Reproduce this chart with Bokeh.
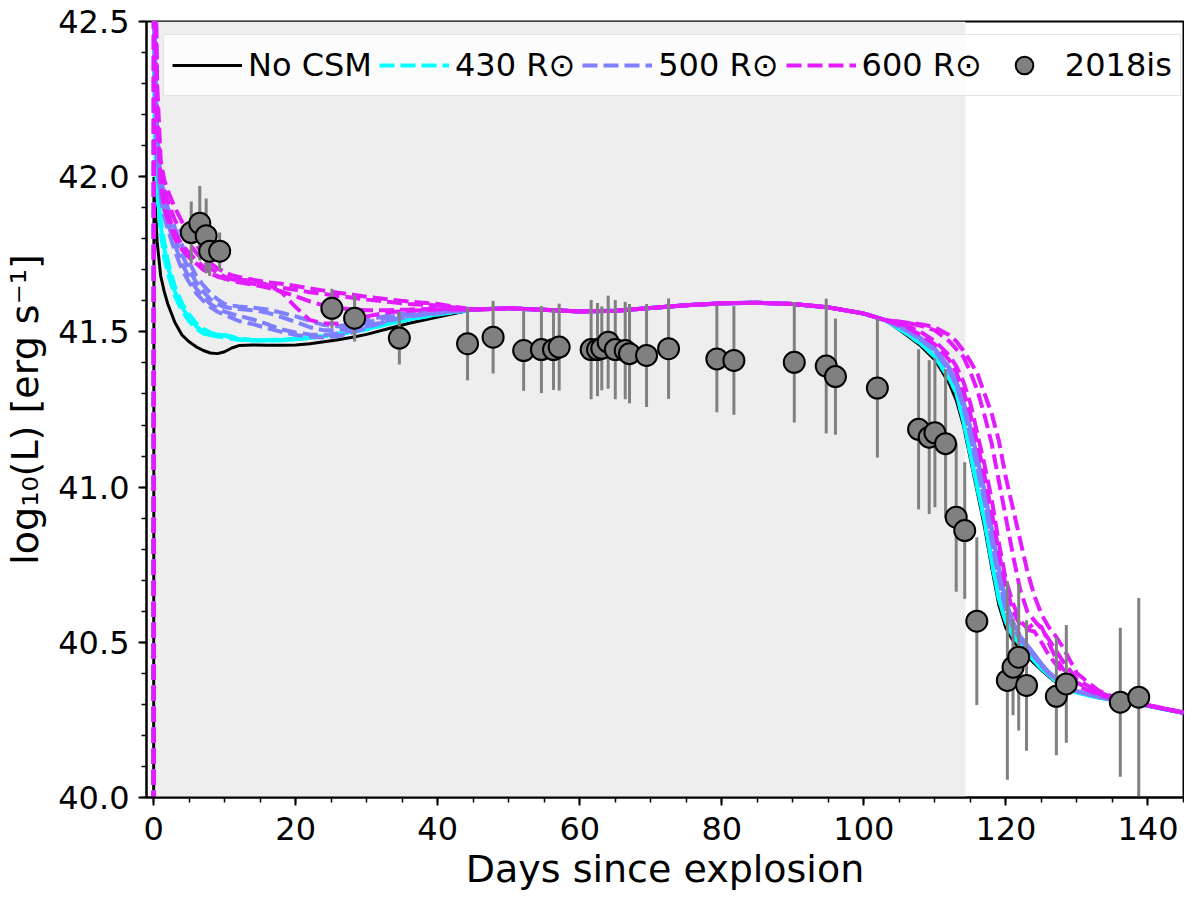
from bokeh.plotting import figure
from bokeh.models import (Range1d, FixedTicker, NumeralTickFormatter, BoxAnnotation,
                          Legend, LegendItem)
from bokeh.embed import file_html
from bokeh.resources import INLINE

FONT = "DejaVu Sans"

# SN 2018is bolometric light curve: days since explosion, log10 L, error
obs_days = [5.3, 6.5, 7.4, 7.9, 9.3, 25.1, 28.3, 34.6, 44.2, 47.8,
            52.1, 54.6, 56.3, 57.1, 61.6, 62.5, 63.1, 64.0, 65.0, 66.4,
            67.0, 69.4, 72.5, 79.3, 81.7, 90.2, 94.7, 96.0, 101.9, 107.7,
            109.2, 110.0, 111.5, 113.0, 114.2, 115.9, 120.2, 121.0, 121.8, 122.9,
            127.1, 128.5, 136.1, 138.7]
obs_logL = [41.82, 41.85, 41.81, 41.76, 41.76, 41.576, 41.544, 41.48, 41.462, 41.483,
            41.44, 41.443, 41.443, 41.451, 41.443, 41.443, 41.447, 41.467, 41.443, 41.44,
            41.43, 41.424, 41.446, 41.413, 41.408, 41.402, 41.39, 41.356, 41.319, 41.186,
            41.161, 41.175, 41.14, 40.903, 40.86, 40.568, 40.377, 40.42, 40.452, 40.361,
            40.326, 40.366, 40.307, 40.323]
obs_err = [0.10, 0.12, 0.12, 0.08, 0.06, 0.063, 0.075, 0.085, 0.118, 0.117,
           0.13, 0.14, 0.13, 0.14, 0.16, 0.15, 0.135, 0.15, 0.16, 0.157,
           0.16, 0.166, 0.162, 0.172, 0.175, 0.194, 0.217, 0.187, 0.224, 0.258,
           0.248, 0.24, 0.24, 0.24, 0.22, 0.27, 0.32, 0.155, 0.236, 0.21,
           0.19, 0.19, 0.24, 0.32]

# model curves, split in three time blocks
early_days = [0.0, 0.05, 0.2, 0.5, 1.0, 1.5, 2.0, 3.0, 4.0, 5.0, 6.0, 7.0, 8.0, 9.0,
              10.0, 11.0, 12.0, 14.0, 16.0, 18.0, 20.0, 22.0, 24.0, 26.0, 28.0, 30.0,
              33.0, 36.0, 40.0]
plateau_days = [45, 50, 55, 60, 65, 70, 75, 80, 85, 90, 95, 100, 103]
late_days = [106, 108, 110, 112, 113, 114, 115, 116, 117, 118, 119, 120, 121, 122,
             123, 124, 125, 126, 127, 128, 130, 133, 136, 140, 145]

plateau_logL = [41.572, 41.576, 41.571, 41.566, 41.568, 41.577, 41.586, 41.592,
                41.594, 41.590, 41.579, 41.559, 41.538]

# no CSM
nocsm_early = [39.5, 42.0, 41.92, 41.79, 41.68, 41.63, 41.59, 41.53, 41.49, 41.468,
               41.452, 41.44, 41.432, 41.43, 41.436, 41.448, 41.456, 41.458, 41.457,
               41.457, 41.458, 41.462, 41.468, 41.475, 41.483, 41.492, 41.51, 41.528, 41.548]
nocsm_late = [41.49, 41.455, 41.41, 41.335, 41.28, 41.2, 41.09, 40.98, 40.87, 40.74,
              40.62, 40.545, 40.505, 40.478, 40.455, 40.432, 40.41, 40.39, 40.372,
              40.358, 40.338, 40.322, 40.31, 40.295, 40.272]

# 430 Rsun
r430_early_a = [39.5, 42.4, 42.15, 41.98, 41.84, 41.77, 41.71, 41.63, 41.58, 41.545,
                41.518, 41.5, 41.49, 41.485, 41.482, 41.478, 41.475, 41.472, 41.472,
                41.473, 41.476, 41.48, 41.486, 41.493, 41.5, 41.508, 41.525, 41.54, 41.556]
r430_early_b = [39.5, 42.35, 42.1, 41.95, 41.82, 41.74, 41.69, 41.615, 41.568, 41.535,
                41.51, 41.495, 41.49, 41.492, 41.488, 41.48, 41.476, 41.473, 41.473,
                41.474, 41.477, 41.481, 41.487, 41.494, 41.501, 41.51, 41.526, 41.541, 41.557]
r430_early_c = [39.5, 42.45, 42.2, 42.0, 41.86, 41.79, 41.73, 41.645, 41.592, 41.556,
                41.528, 41.51, 41.498, 41.49, 41.49, 41.485, 41.478, 41.474, 41.474,
                41.475, 41.478, 41.482, 41.488, 41.495, 41.502, 41.511, 41.527, 41.542, 41.558]
r430_late_a = [41.495, 41.462, 41.42, 41.35, 41.305, 41.215, 41.105, 40.995, 40.89, 40.76,
               40.64, 40.565, 40.52, 40.492, 40.466, 40.44, 40.415, 40.395, 40.376,
               40.36, 40.338, 40.322, 40.31, 40.295, 40.272]
r430_late_b = [41.5, 41.466, 41.425, 41.36, 41.315, 41.235, 41.13, 41.02, 40.915, 40.785,
               40.66, 40.578, 40.528, 40.498, 40.47, 40.443, 40.418, 40.397, 40.378,
               40.362, 40.34, 40.323, 40.31, 40.295, 40.272]

# 500 Rsun
r500_early_a = [39.5, 42.7, 42.4, 42.15, 41.99, 41.95, 41.9, 41.835, 41.78, 41.725,
                41.68, 41.65, 41.625, 41.605, 41.59, 41.585, 41.582, 41.578, 41.572,
                41.562, 41.55, 41.535, 41.522, 41.518, 41.525, 41.538, 41.552, 41.56, 41.566]
r500_early_b = [39.5, 42.65, 42.35, 42.1, 41.96, 41.91, 41.87, 41.8, 41.75, 41.7,
                41.66, 41.63, 41.605, 41.59, 41.58, 41.576, 41.574, 41.57, 41.562,
                41.548, 41.532, 41.515, 41.505, 41.505, 41.515, 41.53, 41.548, 41.558, 41.564]
r500_early_c = [39.5, 42.6, 42.3, 42.07, 41.95, 41.89, 41.85, 41.78, 41.72, 41.675,
                41.64, 41.612, 41.59, 41.575, 41.565, 41.558, 41.552, 41.54, 41.525,
                41.508, 41.498, 41.492, 41.49, 41.495, 41.505, 41.518, 41.537, 41.552, 41.562]
r500_early_d = [39.5, 42.55, 42.25, 42.04, 41.93, 41.87, 41.83, 41.76, 41.7, 41.66,
                41.625, 41.6, 41.58, 41.565, 41.555, 41.545, 41.535, 41.525, 41.512,
                41.5, 41.49, 41.484, 41.482, 41.487, 41.498, 41.514, 41.535, 41.55, 41.56]
r500_late_a = [41.51, 41.48, 41.445, 41.385, 41.34, 41.275, 41.19, 41.09, 40.985, 40.865,
               40.74, 40.63, 40.565, 40.52, 40.49, 40.462, 40.43, 40.405, 40.385,
               40.367, 40.343, 40.325, 40.312, 40.296, 40.273]
r500_late_b = [41.505, 41.475, 41.44, 41.375, 41.33, 41.26, 41.165, 41.06, 40.955, 40.83,
               40.705, 40.605, 40.548, 40.51, 40.48, 40.455, 40.425, 40.4, 40.382,
               40.365, 40.342, 40.324, 40.311, 40.296, 40.273]

# 600 Rsun
r600_early_a = [39.5, 43.5, 42.8, 42.3, 42.05, 41.99, 41.955, 41.9, 41.855, 41.815,
                41.78, 41.75, 41.722, 41.705, 41.692, 41.683, 41.677, 41.668, 41.66,
                41.655, 41.648, 41.64, 41.633, 41.626, 41.62, 41.613, 41.605, 41.598, 41.59]
r600_early_b = [39.5, 43.4, 42.7, 42.25, 42.02, 41.96, 41.92, 41.86, 41.82, 41.785,
                41.755, 41.73, 41.705, 41.69, 41.678, 41.67, 41.665, 41.655, 41.648,
                41.642, 41.636, 41.628, 41.622, 41.616, 41.61, 41.604, 41.597, 41.59, 41.585]
r600_early_c = [39.5, 43.3, 42.6, 42.2, 41.98, 41.92, 41.88, 41.82, 41.78, 41.755,
                41.73, 41.71, 41.692, 41.68, 41.672, 41.665, 41.66, 41.652, 41.643,
                41.63, 41.615, 41.598, 41.585, 41.577, 41.572, 41.57, 41.57, 41.572, 41.575]
r600_early_d = [39.5, 43.2, 42.55, 42.18, 41.97, 41.9, 41.86, 41.8, 41.765, 41.74,
                41.72, 41.7, 41.688, 41.678, 41.672, 41.67, 41.668, 41.665, 41.652,
                41.628, 41.58, 41.538, 41.528, 41.526, 41.535, 41.55, 41.563, 41.568, 41.572]
r600_late_a = [41.53, 41.525, 41.515, 41.49, 41.47, 41.44, 41.405, 41.365, 41.3, 41.236,
               41.15, 41.03, 40.93, 40.83, 40.73, 40.65, 40.59, 40.55, 40.52,
               40.485, 40.4, 40.345, 40.315, 40.298, 40.275]
r600_late_b = [41.53, 41.52, 41.505, 41.47, 41.445, 41.42, 41.37, 41.31, 41.23, 41.14,
               41.02, 40.9, 40.78, 40.67, 40.6, 40.57, 40.545, 40.51, 40.475,
               40.44, 40.38, 40.34, 40.315, 40.297, 40.274]
r600_late_c = [41.52, 41.5, 41.47, 41.425, 41.39, 41.34, 41.27, 41.17, 41.07, 40.96,
               40.82, 40.7, 40.625, 40.57, 40.545, 40.56, 40.55, 40.5, 40.45,
               40.415, 40.37, 40.335, 40.313, 40.296, 40.273]
r600_late_d = [41.515, 41.49, 41.46, 41.41, 41.37, 41.31, 41.235, 41.14, 41.035, 40.92,
               40.79, 40.68, 40.6, 40.555, 40.54, 40.535, 40.5, 40.46, 40.43,
               40.405, 40.36, 40.332, 40.312, 40.296, 40.273]

# plateau phase (grey band)
plateau_start, plateau_end = 0.3, 114.3

CYAN = "#00ffff"
LAV = "#7f7fff"
MAG = "#e31cff"

models = [
    ("No CSM", "black", None, nocsm_early, nocsm_late),
    ("430 R\u2299", CYAN, "15 6", r430_early_a, r430_late_a),
    (None, CYAN, "15 6", r430_early_b, r430_late_b),
    (None, CYAN, "15 6", r430_early_c, r430_late_a),
    ("500 R\u2299", LAV, "15 6", r500_early_a, r500_late_a),
    (None, LAV, "15 6", r500_early_b, r500_late_b),
    (None, LAV, "15 6", r500_early_c, r500_late_b),
    (None, LAV, "15 6", r500_early_d, r500_late_a),
    ("600 R\u2299", MAG, "15 6", r600_early_a, r600_late_a),
    (None, MAG, "15 6", r600_early_b, r600_late_b),
    (None, MAG, "15 6", r600_early_c, r600_late_c),
    (None, MAG, "15 6", r600_early_d, r600_late_d),
]

p = figure(width=1184, height=894, x_range=Range1d(-1, 145), y_range=Range1d(40, 42.5),
           output_backend="svg", toolbar_location=None,
           min_border_left=143, min_border_right=1, min_border_top=21, min_border_bottom=97)
p.grid.visible = False
p.outline_line_color = "black"
p.outline_line_width = 2
p.background_fill_color = "white"
p.border_fill_color = "white"

p.add_layout(BoxAnnotation(left=plateau_start, right=plateau_end, fill_color="#eeeeee",
                           fill_alpha=1.0, line_color=None, level="underlay"))

items = []
for label, color, dash, early, late in models:
    days = early_days + plateau_days + late_days
    lum = early + plateau_logL + late
    if dash is None:
        r = p.line(days, lum, line_color=color, line_width=3)
    else:
        r = p.line(days, lum, line_color=color, line_width=4, line_dash=dash)
    if label:
        items.append(LegendItem(label=label, renderers=[r]))

lo = [v - e for v, e in zip(obs_logL, obs_err)]
hi = [v + e for v, e in zip(obs_logL, obs_err)]
p.segment(x0=obs_days, y0=lo, x1=obs_days, y1=hi, line_color="#808080", line_width=3)
r_obs = p.scatter(obs_days, obs_logL, size=21, fill_color="#808080",
                  line_color="black", line_width=2)
items.append(LegendItem(label="2018is", renderers=[r_obs]))

p.xaxis.ticker = FixedTicker(ticks=[0, 20, 40, 60, 80, 100, 120, 140],
                             minor_ticks=list(range(0, 146, 5)))
p.yaxis.ticker = FixedTicker(ticks=[40.0, 40.5, 41.0, 41.5, 42.0, 42.5],
                             minor_ticks=[40.0, 40.1, 40.2, 40.3, 40.4, 40.5, 40.6, 40.7, 40.8,
                                          40.9, 41.0, 41.1, 41.2, 41.3, 41.4, 41.5, 41.6, 41.7,
                                          41.8, 41.9, 42.0, 42.1, 42.2, 42.3, 42.4, 42.5])
p.yaxis.formatter = NumeralTickFormatter(format="0.0")
p.xaxis.axis_label = "Days since explosion"
p.yaxis.axis_label = "log\u2081\u2080(L) [erg s\u207b\u00b9]"

for ax in (p.xaxis, p.yaxis):
    ax.axis_line_width = 2
    ax.axis_line_color = "black"
    ax.major_tick_line_width = 2
    ax.minor_tick_line_width = 1.5
    ax.major_tick_in = 0
    ax.major_tick_out = 8
    ax.minor_tick_in = 0
    ax.minor_tick_out = 5
    ax.major_label_text_font = FONT
    ax.major_label_text_font_size = "32px"
    ax.major_label_text_color = "black"
    ax.axis_label_text_font = FONT
    ax.axis_label_text_font_size = "38px"
    ax.axis_label_text_font_style = "normal"
    ax.axis_label_text_color = "black"
p.xaxis.major_label_standoff = 11
p.xaxis.axis_label_standoff = 4
p.yaxis.major_label_standoff = 9
p.yaxis.axis_label_standoff = 8

legend = Legend(items=items, orientation="horizontal", location=(17, 701),
                glyph_width=70, glyph_height=44, label_standoff=6, spacing=7, padding=8,
                label_text_font=FONT, label_text_font_size="32px", label_text_color="black",
                border_line_color="#cccccc", border_line_width=1.5,
                background_fill_color="white", background_fill_alpha=0.8)
p.add_layout(legend)

open("out.html", "w").write(file_html(p, INLINE))
